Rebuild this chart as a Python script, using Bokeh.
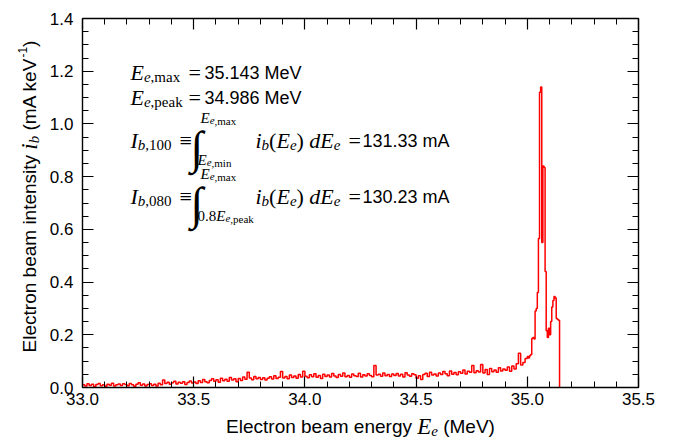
import numpy as np
from bokeh.plotting import figure
from bokeh.models import (Label, LinearAxis, FixedTicker, PrintfTickFormatter,
                          CustomJSTickFormatter, Range1d)
from bokeh.embed import file_html
from bokeh.resources import INLINE

# ---------------------------------------------------------------------------
# Electron beam spectrum i_b(E_e), mA per keV
# low-energy tail: 10 keV bins starting at 33.00 MeV
tail_start = 33.00
tail_bin = 0.010
tail_intensity = [
    0.010, 0.006, 0.014, 0.008, 0.012, 0.004, 0.011, 0.015, 0.007, 0.010,
    0.005, 0.012, 0.009, 0.016, 0.006, 0.010, 0.013, 0.008, 0.014, 0.011,
    0.007, 0.015, 0.010, 0.005, 0.012, 0.018, 0.009, 0.013, 0.006, 0.011,
    0.014, 0.008, 0.012, 0.006, 0.016, 0.010, 0.028, 0.015, 0.020, 0.012,
    0.018, 0.024, 0.013, 0.020, 0.016, 0.022, 0.011, 0.019, 0.025, 0.017,
    0.021, 0.015, 0.026, 0.019, 0.030, 0.022, 0.018, 0.027, 0.033, 0.024,
    0.029, 0.020, 0.035, 0.026, 0.031, 0.024, 0.038, 0.028, 0.033, 0.022,
    0.034, 0.027, 0.040, 0.031, 0.058, 0.036, 0.029, 0.042, 0.033, 0.038,
    0.030, 0.037, 0.028, 0.035, 0.041, 0.032, 0.045, 0.034, 0.039, 0.061,
    0.036, 0.042, 0.033, 0.047, 0.038, 0.044, 0.035, 0.049, 0.040, 0.062,
    0.043, 0.037, 0.048, 0.041, 0.052, 0.039, 0.046, 0.034, 0.050, 0.042,
    0.047, 0.040, 0.053, 0.044, 0.038, 0.049, 0.043, 0.055, 0.041, 0.046,
    0.039, 0.051, 0.045, 0.042, 0.054, 0.040, 0.048, 0.044, 0.052, 0.046,
    0.041, 0.083, 0.047, 0.050, 0.043, 0.055, 0.045, 0.049, 0.042, 0.051,
    0.046, 0.053, 0.044, 0.050, 0.040, 0.056, 0.047, 0.043, 0.052, 0.048,
    0.035, 0.045, 0.030, 0.049, 0.054, 0.042, 0.058, 0.047, 0.051, 0.044,
    0.055, 0.049, 0.061, 0.052, 0.045, 0.063, 0.050, 0.057, 0.048, 0.060,
    0.054, 0.066, 0.051, 0.062, 0.058, 0.083, 0.056, 0.064, 0.059, 0.087,
    0.055, 0.068, 0.049, 0.072, 0.060, 0.066, 0.058, 0.075, 0.063, 0.070,
    0.065, 0.078, 0.062, 0.082, 0.070, 0.090, 0.130, 0.085, 0.095, 0.110,
]
# peak region: 5 keV bins starting at 35.000 MeV
peak_start = 35.000
peak_bin = 0.005
peak_intensity = [
    0.118, 0.112, 0.120, 0.125, 0.186, 0.190, 0.184, 0.290, 0.300, 0.360,
    0.565, 1.120, 1.140, 0.550, 0.840, 0.835, 0.440, 0.215, 0.190, 0.225,
    0.200, 0.250, 0.305, 0.330, 0.345, 0.340, 0.262, 0.258, 0.255,
]

E_max_text = "35.143 MeV"
E_peak_text = "34.986 MeV"
I_100_text = "131.33 mA"
I_080_text = "130.23 mA"

x_lo, x_hi = 33.0, 35.5
y_lo, y_hi = 0.0, 1.4
x_major = [33.0, 33.5, 34.0, 34.5, 35.0, 35.5]
y_major = [0.0, 0.2, 0.4, 0.6, 0.8, 1.0, 1.2, 1.4]
x_minor_step = 0.1
y_minor_step = 0.05

# ---------------------------------------------------------------------------
# The frame fills the whole canvas; the axes are pinned to the data box with
# fixed_location/bounds, so every label can sit anywhere on the canvas.
W, H = 680, 438
BOX_L, BOX_R, BOX_T, BOX_B = 82, 638, 18, 387   # data box in canvas pixels

kx = (BOX_R - BOX_L) / (x_hi - x_lo)
ky = (BOX_B - BOX_T) / (y_hi - y_lo)

def dx(px):
    return x_lo + (px - BOX_L) / kx

def dy(py):
    return y_lo + (BOX_B - py) / ky

p = figure(width=W, height=H, output_backend="svg", toolbar_location=None,
           x_range=Range1d(dx(0), dx(W)), y_range=Range1d(dy(H), dy(0)),
           min_border=0, min_border_left=0, min_border_right=0,
           min_border_top=0, min_border_bottom=0)
p.background_fill_color = "white"
p.border_fill_color = "white"
p.outline_line_color = None
p.xgrid.visible = False
p.ygrid.visible = False

tail_edges = tail_start + tail_bin * np.arange(len(tail_intensity))
peak_edges = peak_start + peak_bin * np.arange(len(peak_intensity))
end_edge = peak_start + peak_bin * len(peak_intensity)
xs = np.concatenate([tail_edges, peak_edges, [end_edge]])
ys = np.concatenate([tail_intensity, peak_intensity, [0.0]])
p.step(xs, ys, mode="after", line_color="#ff0000", line_width=1.5)

def minor_list(lo, hi, step):
    n = int(round((hi - lo) / step))
    return [round(lo + i * step, 4) for i in range(n + 1)]

x_ticker = FixedTicker(ticks=x_major, minor_ticks=minor_list(x_lo, x_hi, x_minor_step))
y_ticker = FixedTicker(ticks=y_major, minor_ticks=minor_list(y_lo, y_hi, y_minor_step))

def style_axis(ax, ticker, bounds, loc):
    ax.ticker = ticker
    ax.bounds = bounds
    ax.fixed_location = loc
    ax.axis_line_color = "black"
    ax.axis_line_width = 1.4
    ax.major_tick_in = 11
    ax.major_tick_out = 0
    ax.minor_tick_in = 6
    ax.minor_tick_out = 0
    ax.major_tick_line_width = 1.2
    ax.minor_tick_line_width = 1.0
    ax.major_tick_line_color = "black"
    ax.minor_tick_line_color = "black"

xa = p.xaxis[0]
style_axis(xa, x_ticker, (x_lo, x_hi), y_lo)
xa.formatter = PrintfTickFormatter(format="%.1f")
xa.major_label_text_font = "Liberation Sans"
xa.major_label_text_font_size = "17px"
xa.major_label_text_color = "black"
xa.major_label_standoff = 5

ya = p.yaxis[0]
style_axis(ya, y_ticker, (y_lo, y_hi), x_lo)
ya.formatter = PrintfTickFormatter(format="%.1f")
ya.major_label_text_font = "Liberation Sans"
ya.major_label_text_font_size = "17px"
ya.major_label_text_color = "black"
ya.major_label_standoff = 9

# mirrored ticks on the top and right edges
blank = CustomJSTickFormatter(code="return ''")
for side, ticker, bounds, loc in (("above", x_ticker, (x_lo, x_hi), y_hi),
                                  ("right", y_ticker, (y_lo, y_hi), x_hi)):
    ax = LinearAxis()
    style_axis(ax, ticker, bounds, loc)
    ax.formatter = blank
    ax.major_label_text_font_size = "1px"
    ax.major_label_standoff = 0
    p.add_layout(ax, side)

# ---------------------------------------------------------------------------
# text helpers: place pieces in canvas pixels, chained by approximate advance widths
SANS_W = {' ': 278, '(': 333, ')': 333, '.': 278, ',': 278, '-': 333, '=': 584,
          'A': 667, 'E': 667, 'M': 833, 'V': 667, 'a': 556, 'b': 556, 'c': 500,
          'e': 556, 'g': 556, 'i': 222, 'k': 500, 'l': 222, 'm': 833, 'n': 556,
          'o': 556, 'r': 333, 's': 500, 't': 278, 'y': 500}
IT_W = {'E': 611, 'I': 333, 'b': 500, 'd': 500, 'e': 444, 'i': 278, ' ': 250}
RM_W = {',': 250, '.': 250, 'm': 778, 'a': 444, 'x': 500, 'i': 278, 'n': 500,
        'p': 500, 'e': 444, 'k': 500, '(': 333, ')': 333, '=': 564, '≡': 549, ' ': 250}

FONTS = {
    "sans": ("Liberation Sans", "normal", SANS_W, 556),
    "it": ("Liberation Serif", "italic", IT_W, 500),
    "rm": ("Liberation Serif", "normal", RM_W, 500),
}
BASE_ADJ = 7   # rendered baseline sits this many pixels below the anchor

def width(text, kind, size):
    table, default = FONTS[kind][2], FONTS[kind][3]
    return sum(table.get(c, default) for c in text) * size / 1000.0

def put(px, py, text, kind, size, angle=0.0):
    font, style = FONTS[kind][0], FONTS[kind][1]
    if angle:
        px -= BASE_ADJ
    else:
        py -= BASE_ADJ
    p.add_layout(Label(x=dx(px), y=dy(py), text=text, text_font=font,
                       text_font_style=style, text_font_size=f"{size}px",
                       text_color="black", text_align="left",
                       text_baseline="alphabetic", angle=angle))

def run(px, py, pieces, vertical=False):
    for text, kind, size, shift in pieces:
        # leading blanks are collapsed when drawn, so turn them into an offset
        body = text.lstrip(" ")
        lead = width(text[:len(text) - len(body)], kind, size)
        if vertical:
            py -= lead
            put(px + shift, py, body, kind, size, angle=np.pi / 2)
            py -= width(body, kind, size)
        else:
            px += lead
            put(px, py + shift, body, kind, size)
            px += width(body, kind, size)
    return px, py

def total(pieces):
    return sum(width(t, k, s) for t, k, s, _ in pieces)

# axis titles
x_title = [("Electron beam energy ", "sans", 19, 0), ("E", "it", 23, 0),
           ("e", "it", 15, 4), (" (MeV)", "sans", 19, 0)]
run((BOX_L + BOX_R) / 2 - total(x_title) / 2, 433, x_title)

y_title = [("Electron beam intensity ", "sans", 19, 0), ("i", "it", 23, 0),
           ("b", "it", 15, 4), (" (mA keV", "sans", 19, 0), ("-1", "sans", 12, -7),
           (")", "sans", 19, 0)]
run(36, 196 + total(y_title) / 2, y_title, vertical=True)

# annotations
MS, SS, LS = 22, 15, 11   # math size, subscript size, limit-subscript size
NS = 18                   # sans value size

run(130, 79, [("E", "it", MS, 0), ("e", "it", SS, 4), (",max", "rm", SS, 4)])
put(188, 79, "=", "rm", MS)
put(204, 79, E_max_text, "sans", NS)

run(130, 104, [("E", "it", MS, 0), ("e", "it", SS, 4), (",peak", "rm", SS, 4)])
put(188, 104, "=", "rm", MS)
put(204, 104, E_peak_text, "sans", NS)

def integral_line(base, sub_num, lower_pieces, value_text):
    run(130, base, [("I", "it", MS, 0), ("b", "it", SS, 4), (sub_num, "rm", SS, 4)])
    put(179, base, "≡", "rm", MS)
    put(190, base + 7, "∫", "rm", 46)
    run(200, base - 23, [("E", "it", SS, 0), ("e", "it", LS, 3), (",max", "rm", LS, 3)])
    run(197, base + 19, lower_pieces)
    run(255, base, [("i", "it", MS, 0), ("b", "it", SS, 4), ("(", "rm", MS, 0),
                    ("E", "it", MS, 0), ("e", "it", SS, 4), (")", "rm", MS, 0),
                    (" d", "it", MS, 0), ("E", "it", MS, 0), ("e", "it", SS, 4)])
    put(348, base, "=", "rm", MS)
    put(362, base, value_text, "sans", NS)

integral_line(147, ",100",
              [("E", "it", SS, 0), ("e", "it", LS, 3), (",min", "rm", LS, 3)], I_100_text)
integral_line(203, ",080",
              [("0.8", "rm", SS, 0), ("E", "it", SS, 0), ("e", "it", LS, 3), (",peak", "rm", LS, 3)],
              I_080_text)

open("out.html", "w").write(file_html(p, INLINE))
